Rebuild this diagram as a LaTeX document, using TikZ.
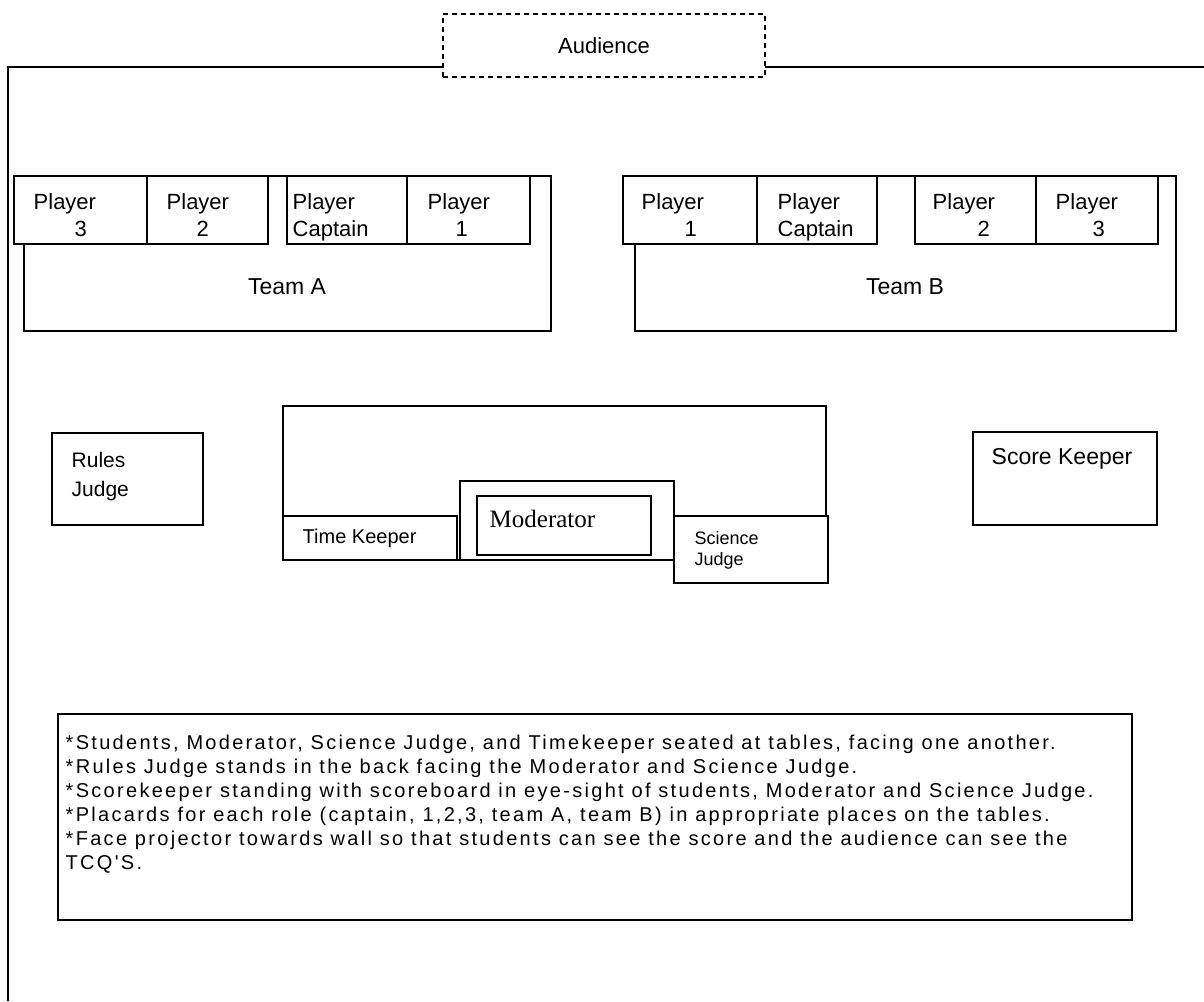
\documentclass[tikz,border=0pt]{standalone}
\usepackage{fontspec}
\setmainfont{Liberation Sans}
\newfontfamily\modfont{Liberation Serif}
\newfontfamily\notefont[LetterSpace=11.5]{Liberation Sans}
\usetikzlibrary{positioning}

\begin{document}
\begin{tikzpicture}[
    x=1pt, y=-1pt,
    line width=1.4pt,
    desk/.style={
        draw,
        rectangle,
        fill=white,
        inner sep=0pt,
        outer sep=0pt
    },
    seat/.style={
        desk,
        minimum height=68pt
    },
    tag/.style={
        inner sep=0pt,
        align=left,
        font=\fontsize{21}{29}\selectfont
    },
    wall/.style={line width=1.4pt},
    crowd/.style={
        desk,
        dash pattern=on 5pt off 4pt,
        font=\fontsize{22}{26}\selectfont
    }
    ]
\useasboundingbox (0,0) rectangle (1204,1001);

% room and audience
\node[crowd, minimum width=322pt, minimum height=63pt, anchor=north west] (audience) at (443,14) {Audience};
\coordinate (cornerTL) at (8,67);
\coordinate (floorL) at (8,1001);
\coordinate (wallR) at (1204,67);
\draw[wall] (audience.west |- cornerTL) -- (cornerTL) -- (floorL);
\draw[wall] (audience.east |- cornerTL) -- (wallR);

% team tables
\node[desk, minimum width=527pt, minimum height=155pt, anchor=north west] (tableA) at (24,176) {};
\node[desk, minimum width=541pt, minimum height=155pt, anchor=north west] (tableB) at (635,176) {};
\foreach \nm/\x/\w/\pad/\ind/\txt in {a3/14/133/19/41/3, a2/147/121/19/30/2, acap/287/120/5/0/Captain,
                                     a1/407/123/20/28/1, b1/623/134/18/43/1, bcap/757/120/20/0/Captain,
                                     b2/915/121/17/45/2, b3/1036/122/19/37/3}
{
    \node[seat, minimum width=\w*1pt, anchor=north west] (\nm) at (\x,176) {};
    \node[tag, font=\fontsize{22}{27}\selectfont, anchor=north west]
        (\nm name) at ([shift={(\pad pt,-17pt)}]\nm.north west) {Player\\\hspace*{\ind pt}\txt};
}
\node[tag, font=\fontsize{23}{27}\selectfont] (teamA) at (287,287) {Team A};
\node[tag, font=\fontsize{23}{27}\selectfont] (teamB) at (905,287) {Team B};

% judges and keepers
\node[desk, minimum width=151pt, minimum height=92pt, anchor=north west] (rules) at (52,433) {};
\node[tag, below right=19pt and 19pt of rules.north west] (rulesname) {Rules\\Judge};
\node[desk, minimum width=184pt, minimum height=93pt, anchor=north west] (score) at (973,432) {};
\node[tag, font=\fontsize{23}{27}\selectfont, anchor=north] (scorename) at (1062,448) {Score Keeper};

% moderator bench
\node[desk, minimum width=543pt, minimum height=154pt, anchor=north west] (bench) at (283,406) {};
\node[desk, minimum width=174pt, minimum height=44pt, anchor=north west] (time) at (283,516) {};
\node[tag, font=\fontsize{20}{24}\selectfont, right=19pt of time.west] (timename) {Time Keeper};
\node[desk, minimum width=214pt, minimum height=79pt, anchor=north west] (modtable) at (460,481) {};
\node[desk, minimum width=174pt, minimum height=59pt, anchor=north west] (mod) at (477,496) {};
\node[tag, font=\modfont\fontsize{25}{29}\selectfont,
      below right=13pt and 12pt of mod.north west] (modname) {Moderator};
\node[desk, minimum width=154pt, minimum height=67pt, anchor=north west] (science) at (674,516) {};
\node[tag, font=\fontsize{18}{21}\selectfont,
      below right=15pt and 20pt of science.north west] (sciencename) {Science\\Judge};

% notes
\node[desk, minimum width=1074pt, minimum height=206pt, anchor=north west] (notes) at (58,714) {};
\node[tag, font=\notefont\fontsize{20}{24}\selectfont,
      below right=20pt and 7pt of notes.north west] (notetext) {%
*Students, Moderator, Science Judge, and Timekeeper seated at tables, facing one another.\\
*Rules Judge stands in the back facing the Moderator and Science Judge.\\
*Scorekeeper standing with scoreboard in eye-sight of students, Moderator and Science Judge.\\
*Placards for each role (captain, 1,2,3, team A, team B) in appropriate places on the tables.\\
*Face projector towards wall so that students can see the score and the audience can see the\\
TCQ'S.};
\end{tikzpicture}
\end{document}
